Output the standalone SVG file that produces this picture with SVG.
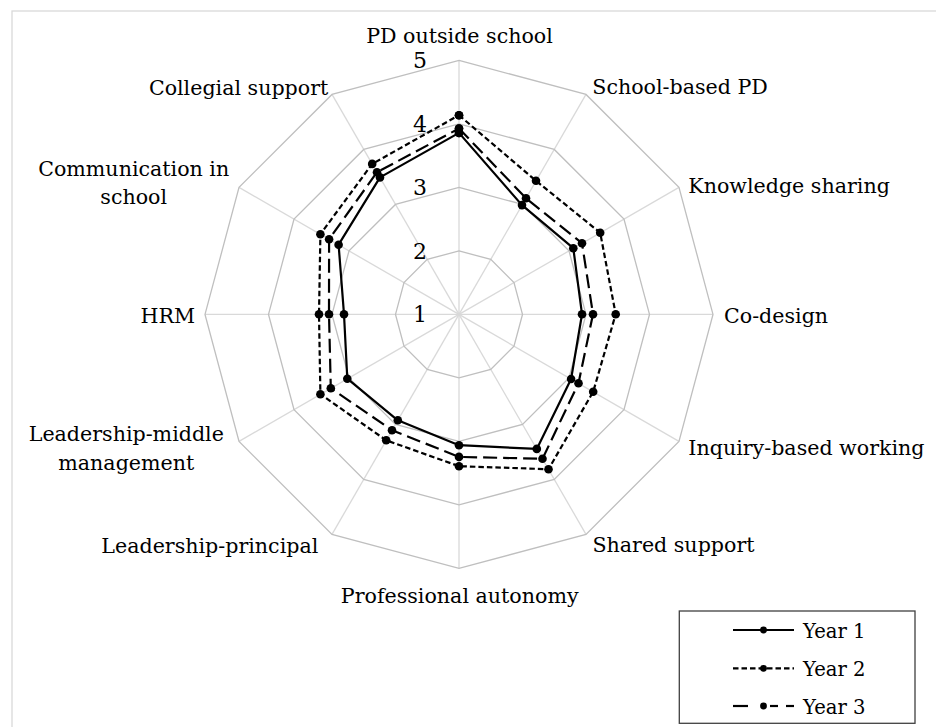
<svg xmlns="http://www.w3.org/2000/svg" width="936" height="727" viewBox="0 0 936 727">
<style>
  text { font-family: 'DejaVu Serif', serif; fill: #000; }
  .lbl { font-size: 20.6px; }
  .tick { font-size: 22px; text-anchor: end; }
  .leg { font-size: 19.6px; }
  .ring { fill: none; stroke: #bfbfbf; stroke-width: 1.3; }
  .spoke { stroke: #d9d9d9; stroke-width: 1.3; }
  .series { fill: none; stroke: #000; stroke-width: 2.2; stroke-linejoin: round; marker-start: url(#dot); marker-mid: url(#dot); marker-end: url(#dot); }
  .y2 { stroke-dasharray: 5.5 3; }
  .y3 { stroke-dasharray: 14 6; }
</style>
<defs>
  <marker id="dot" markerUnits="userSpaceOnUse" markerWidth="12" markerHeight="12" refX="6" refY="6" overflow="visible">
    <circle cx="6" cy="6" r="4.3" fill="#000"/>
  </marker>
</defs>
<rect x="0" y="0" width="936" height="727" fill="#fff"/>
<rect x="12" y="11" width="960" height="760" fill="none" stroke="#d9d9d9" stroke-width="1.3"/>

<g id="grid" transform="translate(459,314.4)">
  <g id="spokes">
    <line class="spoke" x1="0" y1="0" x2="0" y2="-254"/>
    <line class="spoke" x1="0" y1="0" x2="127" y2="-219.97"/>
    <line class="spoke" x1="0" y1="0" x2="219.97" y2="-127"/>
    <line class="spoke" x1="0" y1="0" x2="254" y2="0"/>
    <line class="spoke" x1="0" y1="0" x2="219.97" y2="127"/>
    <line class="spoke" x1="0" y1="0" x2="127" y2="219.97"/>
    <line class="spoke" x1="0" y1="0" x2="0" y2="254"/>
    <line class="spoke" x1="0" y1="0" x2="-127" y2="219.97"/>
    <line class="spoke" x1="0" y1="0" x2="-219.97" y2="127"/>
    <line class="spoke" x1="0" y1="0" x2="-254" y2="0"/>
    <line class="spoke" x1="0" y1="0" x2="-219.97" y2="-127"/>
    <line class="spoke" x1="0" y1="0" x2="-127" y2="-219.97"/>
  </g>
  <polygon class="ring" points="0,-63.5 31.75,-54.99 54.99,-31.75 63.5,0 54.99,31.75 31.75,54.99 0,63.5 -31.75,54.99 -54.99,31.75 -63.5,0 -54.99,-31.75 -31.75,-54.99"/>
  <polygon class="ring" points="0,-127 63.5,-109.98 109.98,-63.5 127,0 109.98,63.5 63.5,109.98 0,127 -63.5,109.98 -109.98,63.5 -127,0 -109.98,-63.5 -63.5,-109.98"/>
  <polygon class="ring" points="0,-190.5 95.25,-164.97 164.97,-95.25 190.5,0 164.97,95.25 95.25,164.97 0,190.5 -95.25,164.97 -164.97,95.25 -190.5,0 -164.97,-95.25 -95.25,-164.97"/>
  <polygon class="ring" points="0,-254 127,-219.97 219.97,-127 254,0 219.97,127 127,219.97 0,254 -127,219.97 -219.97,127 -254,0 -219.97,-127 -127,-219.97"/>
</g>

<g id="ticks">
  <text class="tick" x="427" y="322.4">1</text>
  <text class="tick" x="427" y="258.9">2</text>
  <text class="tick" x="427" y="195.4">3</text>
  <text class="tick" x="427" y="131.9">4</text>
  <text class="tick" x="427" y="68.4">5</text>
</g>

<g id="axis-labels">
  <text id="lbl-pd-outside" class="lbl" x="459.5" y="43.3" text-anchor="middle">PD outside school</text>
  <text id="lbl-school-pd" class="lbl" x="592.3" y="94">School-based PD</text>
  <text id="lbl-knowledge" class="lbl" x="688.3" y="192.7">Knowledge sharing</text>
  <text id="lbl-codesign" class="lbl" x="724" y="323.3">Co-design</text>
  <text id="lbl-inquiry" class="lbl" x="688.3" y="455">Inquiry-based working</text>
  <text id="lbl-shared" class="lbl" x="592.4" y="552.3">Shared support</text>
  <text id="lbl-autonomy" class="lbl" x="459.7" y="602.7" text-anchor="middle">Professional autonomy</text>
  <text id="lbl-principal" class="lbl" x="318.3" y="553.3" text-anchor="end">Leadership-principal</text>
  <text id="lbl-middle" class="lbl" text-anchor="middle"><tspan x="126.3" y="440.7">Leadership-middle</tspan><tspan x="126.3" y="470">management</tspan></text>
  <text id="lbl-hrm" class="lbl" x="195" y="322.7" text-anchor="end">HRM</text>
  <text id="lbl-communication" class="lbl" text-anchor="middle"><tspan x="133.7" y="175.7">Communication in</tspan><tspan x="133.7" y="204">school</tspan></text>
  <text id="lbl-collegial" class="lbl" x="328.3" y="95" text-anchor="end">Collegial support</text>
</g>

<g id="series">
  <polygon id="year1" class="series" points="459,132.9 522,205.1 573.3,248.2 582,314.2 571.1,379 536.8,448.9 459,445.2 397.8,420.3 347.3,378.7 344,314.2 338.6,244.7 380,177.4"/>
  <polygon id="year2" class="series y2" points="459,115.2 536,180.8 600.2,232.7 615.7,314.2 593.2,391.7 548.5,469.2 459,466.2 386.2,440.3 320.4,394.2 319,314.2 320.4,234.2 372.2,163.9"/>
  <polygon id="year3" class="series y3" points="459,128.5 526,198.2 582,243.2 593,314.2 578.5,383.2 542.5,458.8 459,456.9 392,430.2 330.8,388.2 329,314.2 329.1,239.2 377,172.2"/>
</g>

<g id="legend">
  <rect x="679.3" y="611" width="235.7" height="112.3" fill="#fff" stroke="#404040" stroke-width="1.3"/>
  <g id="legend-year1">
    <line x1="733" y1="630" x2="794" y2="630" stroke="#000" stroke-width="2.2"/>
    <circle cx="763.5" cy="630" r="3.4" fill="#000"/>
    <text class="leg" x="803" y="637.5">Year 1</text>
  </g>
  <g id="legend-year2">
    <line x1="733" y1="668.3" x2="794" y2="668.3" stroke="#000" stroke-width="2.2" stroke-dasharray="5.5 3"/>
    <circle cx="763.5" cy="668.3" r="3.4" fill="#000"/>
    <text class="leg" x="803" y="675.8">Year 2</text>
  </g>
  <g id="legend-year3">
    <line x1="733" y1="706" x2="748" y2="706" stroke="#000" stroke-width="2.2"/>
    <line x1="770" y1="706" x2="778" y2="706" stroke="#000" stroke-width="2.2"/>
    <line x1="786" y1="706" x2="794" y2="706" stroke="#000" stroke-width="2.2"/>
    <circle cx="763.5" cy="706" r="3.4" fill="#000"/>
    <text class="leg" x="803" y="713.5">Year 3</text>
  </g>
</g>
</svg>
